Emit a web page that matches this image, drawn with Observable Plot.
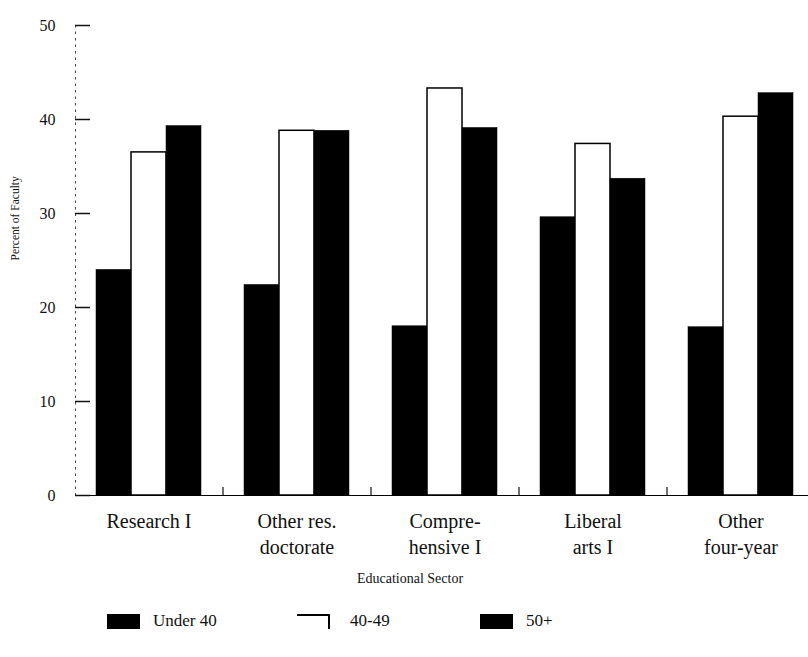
<!DOCTYPE html>
<html><head><meta charset="utf-8">
<script src="https://cdn.jsdelivr.net/npm/d3@7"></script>
<script src="https://cdn.jsdelivr.net/npm/@observablehq/plot@0.6"></script>
<style>
body{margin:0;background:#fff;}
#chart{position:relative;width:808px;height:657px;font-family:"Liberation Serif",serif;overflow:hidden;}
#chart svg text{font-family:"Liberation Serif",serif;}
#legend{position:absolute;left:0;top:600px;width:808px;height:57px;}
.sw{position:absolute;top:14px;width:33px;height:15px;box-sizing:border-box;}
.lt{position:absolute;top:11px;font-size:17px;color:#111;}
</style></head><body><div id="chart"><div id="legend"></div></div>
<script>
const sectors = ["Research I","Other res. doctorate","Comprehensive I","Liberal arts I","Other four-year"];
const sectorLabels = ["Research I","Other res.\ndoctorate","Compre-\nhensive I","Liberal\narts I","Other\nfour-year"];
const ageGroups = ["Under 40","40-49","50+"];
const under40 = [24.0,22.4,18.0,29.6,17.9];
const age40to49 = [36.5,38.8,43.3,37.4,40.3];
const age50plus = [39.3,38.8,39.1,33.7,42.8];
const yTicks = [0,10,20,30,40,50];
const yTitle = "Percent of Faculty";
const xTitle = "Educational Sector";

const seriesValues = [under40, age40to49, age50plus];
const rows = [];
ageGroups.forEach((g, gi) => sectors.forEach((s, si) => rows.push({sector: s, group: g, value: seriesValues[gi][si]})));

// styles
const fills = {"Under 40": "#000", "40-49": "#fff", "50+": "#000"};
const strokes = {"Under 40": "#000", "40-49": "#000", "50+": "#000"};
const barW = 35, step = 148;
const offsets = [-barW, 0, barW];
const labelMap = new Map(sectors.map((s, i) => [s, sectorLabels[i]]));
const serif = '"Liberation Serif", serif';

const barMarks = ageGroups.map((g, gi) => Plot.barY(rows.filter(d => d.group === g), {
  x: "sector", y: "value", dx: offsets[gi], fill: fills[g], stroke: strokes[g], strokeWidth: gi === 1 ? 1.5 : 0.5, inset: 0
}));

const plot = Plot.plot({
  width: 808,
  height: 600,
  marginLeft: 75,
  marginRight: 0,
  marginTop: 25,
  marginBottom: 105,
  style: {fontFamily: serif, color: "#111", background: "#fff"},
  x: {type: "band", domain: sectors, range: [131, 131 + 4 * step + barW], paddingInner: (step - barW) / step, paddingOuter: 0},
  y: {domain: [0, 50]},
  marks: [
    ...barMarks,
    Plot.frame({anchor: "left", stroke: "#444", strokeDasharray: "1.5,5", strokeWidth: 1}),
    Plot.ruleY([0], {stroke: "#000", strokeWidth: 1.2}),
    Plot.axisY({ticks: yTicks, tickSize: 15, dx: 15, tickPadding: 20, fontSize: 16, fontFamily: serif, label: null, strokeWidth: 1.5}),
    Plot.axisX({ticks: sectors.slice(0, 4), tickSize: 8, dy: -8, tickFormat: () => "", label: null, dx: step / 2, strokeWidth: 1.2}),
    Plot.axisX({tickSize: 0, tickPadding: 14, tickFormat: d => labelMap.get(d), fontSize: 20, fontFamily: serif, lineHeight: 1.3, label: null}),
    Plot.text([yTitle], {frameAnchor: "left", dx: -60, rotate: -90, fontSize: 11.5, fontFamily: serif, fill: "#111"}),
    Plot.text([xTitle], {frameAnchor: "bottom", dx: -32, dy: 87, fontSize: 14, fontFamily: serif, fill: "#111"})
  ]
});
document.getElementById("chart").prepend(plot);

// legend (HTML, below the svg)
const legendX = [107, 297, 480];
const legend = d3.select("#legend");
ageGroups.forEach((g, i) => {
  const sw = legend.append("div").attr("class", "sw").style("left", legendX[i] + "px").style("background", fills[g]);
  if (fills[g] === "#fff") sw.style("border-top", "2px solid #000").style("border-right", "2px solid #000");
  legend.append("div").attr("class", "lt").style("left", (legendX[i] + (i === 1 ? 53 : 46)) + "px").text(g);
});
</script></body></html>
